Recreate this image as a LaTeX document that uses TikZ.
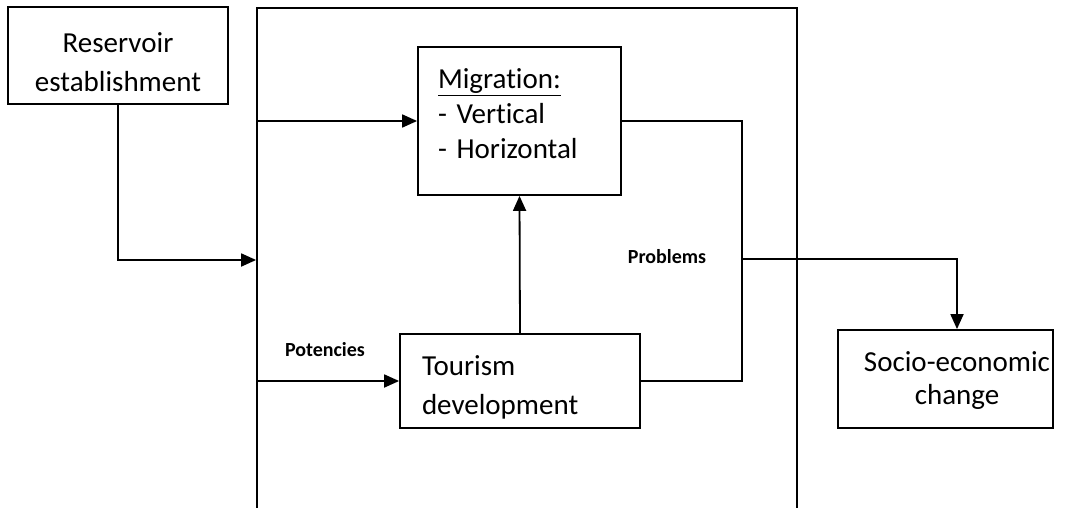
\documentclass[tikz,border=0pt]{standalone}
\usepackage{fontspec}
\setmainfont{Carlito}[Ligatures=NoCommon]
\usetikzlibrary{arrows.meta,positioning}

\begin{document}
\begin{tikzpicture}[
        x=1pt, y=-1pt,
        >={Triangle[length=15pt,width=13pt]},
        line width=1.8pt,
        box/.style={draw, line width=1.8pt, inner sep=0pt, font=\fontsize{29}{35}\selectfont},
        tag/.style={font=\fontsize{20}{24}\selectfont\bfseries}
    ]
        \useasboundingbox (0,0) rectangle (1068,508);
        \clip (0,0) rectangle (1068,508);
        % outer frame, open at the bottom
        \node[draw, line width=1.8pt, minimum width=540pt, minimum height=504pt] (frame) at (527,260) {};
        % boxes
        \node[box, font=\fontsize{29}{39}\selectfont, minimum width=220pt, minimum height=97pt, align=center] (res) at (118,55.5) {\rule{0pt}{34pt}Reservoir\\establishment};
        \node[box, minimum width=203pt, minimum height=148pt, text width=163pt, align=left] (mig) at (519.5,121) {\underline{Migration:}\\- Vertical\\- Horizontal\rule[-14pt]{0pt}{14pt}};
        \node[box, font=\fontsize{29}{39}\selectfont, minimum width=240pt, minimum height=94pt, text width=196pt, align=left] (tour) at (520,381) {\rule{0pt}{32pt}Tourism\\development};
        \node[box, minimum width=215pt, minimum height=98pt] (socio) at (945.5,379) {};
        \node[font=\fontsize{29}{33}\selectfont, align=center] (socioText) at (957,381) {Socio-economic\\change};
        % labels
        \node[tag] (pot) at (325,350) {Potencies};
        \node[tag] (prob) at (667,257) {Problems};
        \coordinate (junc) at (742,259);
        % connectors
        \draw[->] (res.south) |- (frame.west);
        \draw[->] (frame.west |- mig.west) -- (mig.west);
        \draw[->] (frame.west |- tour.west) -- (tour.west);
        \draw[->] (tour.north) -- (mig.south);
        \draw (mig.east) -| (junc) |- (tour.east);
        \draw[->] (junc) -| (socioText |- socio.north);
    \end{tikzpicture}
\end{document}
